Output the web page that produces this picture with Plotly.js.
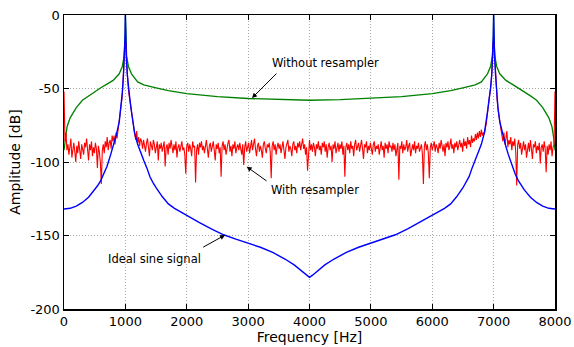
<!DOCTYPE html>
<html>
<head>
<meta charset="utf-8">
<script src="https://cdn.plot.ly/plotly-3.0.1.min.js"></script>
<style>
html, body { margin: 0; padding: 0; background: #fff; }
#chart { width: 574px; height: 347px; }
</style>
</head>
<body>
<div id="chart"></div>
<script>
// ---- data ----
const xTicks = [0, 1000, 2000, 3000, 4000, 5000, 6000, 7000, 8000];
const xTickLabels = ["0", "1000", "2000", "3000", "4000", "5000", "6000", "7000", "8000"];
const yTicks = [0, -50, -100, -150, -200];
const yTickLabels = ["0", "-50", "-100", "-150", "-200"];

// Without resampler (green)
const greenFreq = [0, 20, 50, 100, 200, 300, 400, 500, 600, 700, 800, 900, 950, 980, 995, 1000,
  1005, 1020, 1050, 1100, 1200, 1300, 1500, 1700, 2000, 2500, 3000, 3500, 4000,
  4500, 5000, 5500, 6000, 6300, 6500, 6700, 6800, 6900, 6950, 6980, 6995, 7000,
  7005, 7020, 7050, 7100, 7200, 7300, 7400, 7500, 7600, 7700, 7800, 7900, 7950, 7980, 8000];
const greenAmp = [-92, -84, -76, -70, -63, -58, -55, -52, -49.5, -47, -44.5, -40, -35, -28, -15, 0,
  -15, -28, -35, -40, -45.5, -47.5, -49.5, -51.5, -53.5, -55.5, -56.8, -57.6, -58,
  -57.6, -56.8, -55.5, -53.5, -51.5, -49.5, -47.5, -45.5, -40, -35, -28, -15, 0,
  -15, -28, -35, -40, -44.5, -47, -49.5, -52, -55, -58, -63, -70, -76, -84, -92];

// Ideal sine signal (blue)
const blueFreq = [0, 100, 200, 300, 400, 500, 550, 600, 650, 700, 760, 800, 850, 900, 930, 950, 970, 985, 995, 1000,
  1005, 1015, 1030, 1050, 1070, 1100, 1120, 1150, 1200, 1250, 1300, 1350, 1400, 1450, 1500,
  1600, 1700, 1800, 1900, 2000, 2200, 2400, 2600, 2800, 3000, 3200, 3400, 3600, 3750, 3850, 3950, 4000,
  4050, 4150, 4250, 4400, 4600, 4800, 5000, 5200, 5400, 5600, 5800, 6000, 6100, 6200, 6300, 6400,
  6500, 6550, 6600, 6650, 6700, 6750, 6800, 6850, 6880, 6900, 6930, 6950, 6970, 6985, 6995, 7000,
  7005, 7015, 7030, 7050, 7070, 7100, 7150, 7200, 7240, 7300, 7350, 7400, 7450, 7500, 7600, 7700, 7800, 7900, 8000];
const blueAmp = [-132, -131.5, -130, -127.5, -124, -119, -116, -112.5, -108, -103, -95, -89.5, -82, -72.5, -63, -53, -40, -28, -14, 0,
  -14, -28, -40, -50, -56, -66, -73, -80, -88, -94, -99, -104, -110, -114, -117.5,
  -123.5, -128.5, -131.5, -134, -136.5, -141, -145.5, -149.5, -152.5, -155, -158, -161.5, -166, -170, -173.5, -177, -178.5,
  -177, -173.5, -170, -166, -161.5, -158, -155, -152.5, -149.5, -145.5, -141, -136.5, -134, -131.5, -128.5, -123.5,
  -117.5, -114, -110, -104, -99, -94, -88, -80, -73, -66, -56, -50, -40, -28, -14, 0,
  -14, -28, -40, -53, -63, -72.5, -82, -89.5, -95, -103, -108, -112.5, -116, -119, -124, -127.5, -130, -131.5, -132];

// With resampler (red): one value every redStep Hz from 0 to 8000
const redStart = 0;
const redStep = 16;
const redAmp = [
  -52, -86, -80, -92, -88, -95, -90, -84, -97, -91, -87, -93, -100, -89, -94, -86, -92, -98, -88, -91,
  -95, -87, -90, -84, -93, -99, -88, -92, -86, -96, -90, -94, -87, -91, -104, -89, -93, -100, -115, -92,
  -88, -94, -86, -90, -83, -92, -87, -85, -91, -82, -86, -82, -88, -80, -84, -78, -75, -70, -64, -57,
  -47, -36, -19, -19, -36, -46, -53, -58, -63, -68, -74, -78, -81, -85, -79, -87, -83, -89, -84, -86,
  -91, -85, -88, -93, -87, -84, -90, -96, -86, -89, -92, -85, -88, -94, -90, -86, -99, -88, -91, -87,
  -93, -89, -86, -103, -90, -88, -95, -87, -91, -85, -89, -94, -88, -92, -86, -97, -90, -88, -93, -89,
  -86, -92, -90, -95, -108, -89, -87, -93, -88, -91, -96, -86, -90, -89, -114, -92, -88, -95, -87, -90,
  -86, -92, -89, -94, -88, -85, -91, -97, -89, -87, -93, -90, -86, -92, -99, -88, -91, -87, -94, -90,
  -110, -89, -86, -92, -88, -95, -90, -87, -85, -93, -89, -96, -88, -91, -86, -94, -90, -88, -92, -87,
  -91, -95, -88, -102, -90, -86, -93, -89, -87, -94, -90, -85, -92, -88, -84, -91, -96, -89, -87, -93,
  -89, -92, -97, -88, -86, -91, -94, -88, -90, -87, -93, -111, -89, -86, -92, -88, -95, -90, -87, -91,
  -88, -94, -89, -86, -92, -98, -90, -87, -85, -93, -89, -91, -96, -88, -86, -92, -89, -94, -87, -90,
  -86, -92, -89, -84, -91, -88, -95, -90, -106, -89, -85, -92, -88, -93, -87, -90, -96, -88, -91, -86,
  -92, -89, -95, -87, -90, -86, -93, -88, -97, -90, -87, -92, -89, -100, -88, -91, -86, -94, -89, -87,
  -93, -88, -91, -86, -95, -89, -110, -90, -87, -92, -88, -94, -86, -91, -89, -96, -88, -85, -92, -90,
  -87, -93, -89, -85, -91, -98, -88, -90, -86, -94, -89, -92, -87, -90, -95, -88, -86, -93, -89, -91,
  -88, -95, -90, -86, -92, -89, -97, -87, -91, -88, -94, -86, -90, -89, -93, -87, -92, -88, -96, -90,
  -87, -112, -89, -91, -86, -94, -88, -92, -90, -85, -93, -89, -87, -96, -90, -88, -92, -86, -94, -89,
  -91, -87, -93, -90, -88, -95, -115, -89, -86, -92, -88, -94, -111, -90, -87, -92, -89, -86, -93, -88,
  -90, -94, -87, -91, -85, -89, -93, -88, -96, -87, -90, -86, -92, -89, -84, -91, -88, -94, -87, -90,
  -86, -92, -88, -85, -90, -87, -93, -84, -89, -86, -91, -83, -88, -85, -90, -82, -87, -84, -86, -81,
  -85, -80, -84, -79, -83, -78, -82, -80, -81, -78, -74, -68, -63, -57, -53, -46, -36, -19, -19, -36,
  -47, -57, -64, -70, -75, -78, -82, -86, -80, -88, -84, -79, -90, -85, -88, -83, -92, -86, -89, -84,
  -93, -116, -88, -85, -91, -87, -95, -89, -86, -92, -88, -97, -90, -87, -93, -85, -91, -98, -88, -90,
  -86, -94, -89, -92, -87, -101, -90, -88, -93, -86, -91, -107, -89, -95, -88, -92, -86, -96, -90, -88,
  -52];
const redFreq = redAmp.map((_, i) => redStart + i * redStep);

const seriesNames = ["Without resampler", "With resampler", "Ideal sine signal"];

// ---- chart ----
const font = "DejaVu Sans, Arial, sans-serif";
const traces = [
  { x: greenFreq, y: greenAmp, name: seriesNames[0], type: "scatter", mode: "lines",
    line: { color: "#008000", width: 1.3 } },
  { x: redFreq, y: redAmp, name: seriesNames[1], type: "scatter", mode: "lines",
    line: { color: "#ff0000", width: 1.1 } },
  { x: blueFreq, y: blueAmp, name: seriesNames[2], type: "scatter", mode: "lines",
    line: { color: "#0000ff", width: 1.4 } }
];

function textNote(x, y, text) {
  return { x: x, y: y, xref: "x", yref: "y", text: text, showarrow: false,
    font: { family: font, size: 11.5, color: "#000" } };
}
function arrowNote(hx, hy, tx, ty) {
  return { x: hx, y: hy, ax: tx, ay: ty, xref: "x", yref: "y", axref: "x", ayref: "y",
    text: "", showarrow: true, arrowhead: 2, arrowsize: 1, arrowwidth: 1, arrowcolor: "#000" };
}

const gridStyle = { showgrid: true, gridcolor: "#a8a8a8", griddash: "1px,2px", gridwidth: 1, zeroline: false };

const layout = {
  width: 574, height: 347,
  margin: { l: 64, r: 19, t: 15, b: 38, pad: 0 },
  paper_bgcolor: "#fff", plot_bgcolor: "#fff",
  showlegend: false,
  font: { family: font, color: "#000" },
  xaxis: Object.assign({
    range: [0, 8000], tickmode: "array", tickvals: xTicks, ticktext: xTickLabels,
    ticks: "inside", ticklen: 5, tickwidth: 1, tickcolor: "#000",
    showline: true, linecolor: "#000", linewidth: 1.5, mirror: "ticks",
    tickfont: { family: font, size: 13, color: "#000" },
    title: { text: "Frequency [Hz]", font: { family: font, size: 14, color: "#000" }, standoff: 2 }
  }, gridStyle),
  yaxis: Object.assign({
    range: [-200, 0], tickmode: "array", tickvals: yTicks, ticktext: yTickLabels,
    ticks: "inside", ticklen: 5, tickwidth: 1, tickcolor: "#000",
    showline: true, linecolor: "#000", linewidth: 1.5, mirror: "ticks",
    tickfont: { family: font, size: 13, color: "#000" },
    title: { text: "Amplitude [dB]", font: { family: font, size: 14, color: "#000" }, standoff: 6 }
  }, gridStyle),
  annotations: [
    textNote(4261, -32.9, seriesNames[0]),
    arrowNote(3063, -56.5, 3487, -38.8),
    textNote(4090, -119.0, seriesNames[1]),
    arrowNote(2977, -103.2, 3324, -113.6),
    textNote(1472, -166.0, seriesNames[2]),
    arrowNote(2623, -149.7, 2244, -158.5)
  ]
};

Plotly.newPlot("chart", traces, layout, { displayModeBar: false, staticPlot: true });
</script>
</body>
</html>
